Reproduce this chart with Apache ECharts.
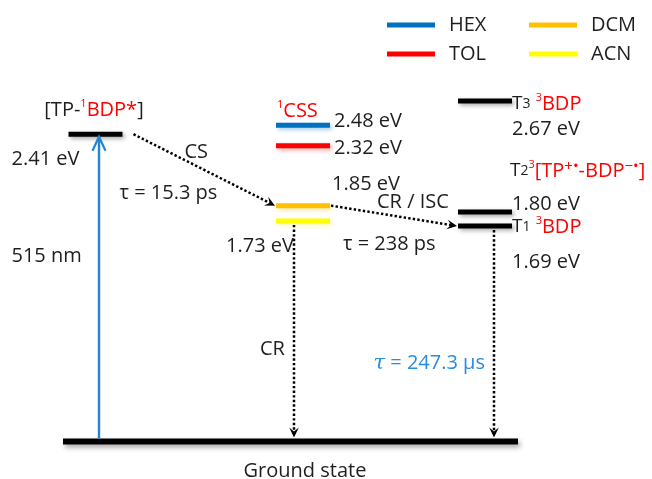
<!DOCTYPE html>
<html>
<head>
<meta charset="utf-8">
<script src="https://cdn.jsdelivr.net/npm/echarts@6/dist/echarts.min.js"></script>
<style>
  html, body { margin: 0; padding: 0; background: #ffffff; }
  #chart { width: 652px; height: 479px; }
</style>
</head>
<body>
<div id="chart"></div>
<script>
// ---- Energy levels (eV above the ground state) ----
const singletEnergy = 2.41;                       // [TP-1BDP*]
const solvents = ['HEX', 'TOL', 'DCM', 'ACN'];
const cssEnergies = [2.48, 2.32, 1.85, 1.73];     // 1CSS in each solvent
const tripletNames = ['T1', 'T2', 'T3'];
const tripletEnergies = [1.69, 1.80, 2.67];
const lifetimes = ['15.3 ps', '238 ps', '247.3 μs']; // CS, CR/ISC, T1 decay
const excitation = '515 nm';

// ---- Styles / layout ----
const FONT = "'Open Sans', 'Noto Sans', 'DejaVu Sans', sans-serif";
const INK = '#1e1e1e';
const RED = '#ff0000';
const BLUE = '#2284d6';
const TAU_BLUE = '#2a8cdc';
const SOLVENT_COLORS = ['#0070c0', '#ff0000', '#ffc000', '#ffff00'];
const COL = { S1: 95.5, CSS: 303, T: 485 };  // column centres along x
const HALF = 27;                              // half length of a level bar
const GROUND = [63, 518];                     // ground-state bar extent

const eV = v => v.toFixed(2) + ' eV';
const sub = i => tripletNames[i].slice(1);

const rich = {
  k:  { fill: INK, fontSize: 20, fontFamily: FONT, lineHeight: 24 },
  r:  { fill: RED, fontSize: 20, fontFamily: FONT, lineHeight: 24 },
  rs: { fill: RED, fontSize: 11, fontFamily: FONT, lineHeight: 12, verticalAlign: 'top' },
  rc: { fill: RED, fontSize: 15, fontFamily: FONT, lineHeight: 14, verticalAlign: 'top' },
  kb: { fill: INK, fontSize: 14, fontFamily: FONT, lineHeight: 14, verticalAlign: 'middle' },
  kt: { fill: INK, fontSize: 19, fontFamily: FONT, lineHeight: 24 },
  b:  { fill: TAU_BLUE, fontSize: 20, fontFamily: FONT, lineHeight: 24 },
  bt: { fill: TAU_BLUE, fontSize: 21, fontFamily: "'DejaVu Serif', serif", fontStyle: 'italic', lineHeight: 24 }
};

const annotations = [
  { at: [COL.S1, singletEnergy], dx: -1.5, dy: -24, align: 'center', text: '{k|[TP-}{rs|1}{r|BDP*}{k|]}' },
  { at: [COL.S1 - HALF, singletEnergy], dx: -57, dy: 25, text: `{k|${eV(singletEnergy)}}` },
  { at: [COL.S1 - HALF, singletEnergy], dx: -57, dy: 122, text: `{k|${excitation}}` },
  { at: [COL.S1 + HALF + 11, singletEnergy], dx: 51, dy: 18, text: '{k|CS}' },
  { at: [COL.S1 + HALF + 11, singletEnergy], dx: -14, dy: 59, text: `{k|τ = ${lifetimes[0]}}` },
  { at: [COL.CSS - HALF, cssEnergies[0]], dx: 1, dy: -14, text: '{rs|1}{r|CSS}' },
  { at: [COL.CSS + HALF, cssEnergies[0]], dx: 4, dy: -4, text: `{k|${eV(cssEnergies[0])}}` },
  { at: [COL.CSS + HALF, cssEnergies[1]], dx: 4, dy: 3, text: `{k|${eV(cssEnergies[1])}}` },
  { at: [COL.CSS + HALF, cssEnergies[2]], dx: 2, dy: -21, text: `{k|${eV(cssEnergies[2])}}` },
  { at: [COL.CSS + HALF, cssEnergies[2]], dx: 47, dy: -3, text: '{k|CR / ISC}' },
  { at: [COL.CSS - HALF, cssEnergies[3]], dx: -50, dy: 25, text: `{k|${eV(cssEnergies[3])}}` },
  { at: [COL.CSS + HALF, cssEnergies[3]], dx: 13, dy: 23, text: `{k|τ = ${lifetimes[1]}}` },
  { at: [COL.T + HALF, tripletEnergies[2]], dx: 0, dy: 3, text: `{kt|T}{kb|${sub(2)}}{k| }{rs|3}{r|BDP}` },
  { at: [COL.T + HALF, tripletEnergies[2]], dx: 0, dy: 28, text: `{k|${eV(tripletEnergies[2])}}` },
  { at: [COL.T + HALF, tripletEnergies[1]], dx: -2, dy: -41, text: `{kt|T}{kb|${sub(1)}}{rs|3}{r|[TP}{rc|+•}{r|-BDP}{rc|−•}{r|]}` },
  { at: [COL.T + HALF, tripletEnergies[1]], dx: 0, dy: -8, text: `{k|${eV(tripletEnergies[1])}}` },
  { at: [COL.T + HALF, tripletEnergies[0]], dx: 0, dy: 1, text: `{kt|T}{kb|${sub(0)}}{k| }{rs|3}{r|BDP}` },
  { at: [COL.T + HALF, tripletEnergies[0]], dx: 0, dy: 36, text: `{k|${eV(tripletEnergies[0])}}` },
  { at: [COL.CSS - 9, 0], dx: -34, dy: -92, text: '{k|CR}' },
  { at: [COL.T + 9, 0], dx: -9, dy: -78, align: 'right', text: `{bt|τ}{b| = ${lifetimes[2]}}` },
  { at: [COL.CSS, 0], dx: 2, dy: 30, align: 'center', text: '{k|Ground state}' }
];

// Transitions between levels (start, end in axis units)
const transitions = [
  { from: [COL.S1 + 3.5, 0], to: [COL.S1 + 3.5, singletEnergy], kind: 'solid', startGap: 3, endGap: 2.5 },
  { from: [COL.S1 + HALF + 11, singletEnergy], to: [COL.CSS - HALF - 1, cssEnergies[2]], kind: 'dot', startGap: 0, endGap: 0 },
  { from: [COL.CSS + HALF + 1, cssEnergies[2]], to: [COL.T - HALF - 1, tripletEnergies[0]], kind: 'dot', startGap: 0, endGap: 0 },
  { from: [COL.CSS - 9, cssEnergies[3]], to: [COL.CSS - 9, 0], kind: 'dot', startGap: 4, endGap: 4 },
  { from: [COL.T + 9, tripletEnergies[0]], to: [COL.T + 9, 0], kind: 'dot', startGap: 4, endGap: 4 }
];

function renderLevel(params, api) {
  const c = api.coord([api.value(0), api.value(1)]);
  const color = api.visual('color');
  const black = color === '#000000';
  return {
    type: 'line',
    shape: { x1: c[0] - HALF, y1: c[1], x2: c[0] + HALF, y2: c[1] },
    style: {
      stroke: color, lineWidth: 5, lineCap: 'butt',
      shadowBlur: 4, shadowOffsetX: 2, shadowOffsetY: 2,
      shadowColor: black ? 'rgba(0,0,0,0.35)' : echarts.color.modifyAlpha(color, 0.35)
    }
  };
}

function renderGround(params, api) {
  const a = api.coord([GROUND[0], 0]);
  const b = api.coord([GROUND[1], 0]);
  return {
    type: 'line',
    shape: { x1: a[0], y1: a[1], x2: b[0], y2: b[1] },
    style: {
      stroke: '#000000', lineWidth: 6, lineCap: 'butt',
      shadowBlur: 5, shadowOffsetX: 2, shadowOffsetY: 3, shadowColor: 'rgba(0,0,0,0.35)'
    }
  };
}

function renderTransition(params, api) {
  const t = transitions[params.dataIndex];
  const p1 = api.coord(t.from), p2 = api.coord(t.to);
  const dx = p2[0] - p1[0], dy = p2[1] - p1[1];
  const len = Math.hypot(dx, dy);
  const ux = dx / len, uy = dy / len, nx = -uy, ny = ux;
  const s = [p1[0] + ux * t.startGap, p1[1] + uy * t.startGap];
  const e = [p2[0] - ux * t.endGap, p2[1] - uy * t.endGap];
  const children = [];
  if (t.kind === 'solid') {
    const L = 14, W = 6.5;
    const back = [e[0] - ux * L, e[1] - uy * L];
    children.push({
      type: 'line', shape: { x1: s[0], y1: s[1], x2: e[0], y2: e[1] },
      style: { stroke: BLUE, lineWidth: 2.4 }
    });
    children.push({
      type: 'polyline',
      shape: { points: [[back[0] + nx * W, back[1] + ny * W], e, [back[0] - nx * W, back[1] - ny * W]] },
      style: { stroke: BLUE, lineWidth: 2.2, fill: null, lineJoin: 'miter' }
    });
  } else {
    const L = 10, W = 4.8;
    const back = [e[0] - ux * L, e[1] - uy * L];
    const notch = [e[0] - ux * L * 0.6, e[1] - uy * L * 0.6];
    children.push({
      type: 'line', shape: { x1: s[0], y1: s[1], x2: notch[0], y2: notch[1] },
      style: { stroke: '#000000', lineWidth: 2.5, lineDash: [2.4, 2.2], lineCap: 'butt' }
    });
    children.push({
      type: 'polygon',
      shape: { points: [e, [back[0] + nx * W, back[1] + ny * W], notch, [back[0] - nx * W, back[1] - ny * W]] },
      style: { fill: '#000000' }
    });
  }
  return { type: 'group', children };
}

function renderAnnotation(params, api) {
  const a = annotations[params.dataIndex];
  const c = api.coord(a.at);
  return {
    type: 'text',
    x: c[0] + a.dx, y: c[1] + a.dy,
    style: {
      text: a.text, rich: rich, align: a.align || 'left', verticalAlign: 'middle',
      fontFamily: FONT, fontSize: 20, fill: INK
    }
  };
}

const chart = echarts.init(document.getElementById('chart'), null, { renderer: 'canvas' });

const solventSeries = solvents.map((name, i) => ({
  name: name,
  type: 'custom',
  renderItem: renderLevel,
  itemStyle: { color: SOLVENT_COLORS[i] },
  data: [[COL.CSS, cssEnergies[i]]],
  z: 3
}));

const legendBase = {
  orient: 'vertical',
  top: 15,
  padding: 0,
  itemWidth: 48,
  itemHeight: 5,
  itemGap: 9,
  icon: 'rect',
  selectedMode: false,
  textStyle: { fontSize: 20, fontFamily: FONT, color: INK, padding: [6, 0, 0, 9] }
};

chart.setOption({
  animation: false,
  backgroundColor: '#ffffff',
  grid: { left: 0, right: 0, top: 59, bottom: 37.5 },
  xAxis: { type: 'value', min: 0, max: 652, show: false },
  yAxis: { type: 'value', min: 0, max: 3, show: false },
  legend: [
    Object.assign({}, legendBase, { left: 387, data: solvents.slice(0, 2) }),
    Object.assign({}, legendBase, { left: 529, data: solvents.slice(2, 4) })
  ],
  series: [
    { type: 'custom', name: 'ground', renderItem: renderGround, data: [[0, 0]], z: 2 },
    {
      type: 'custom', name: 'levels', renderItem: renderLevel,
      itemStyle: { color: '#000000' },
      data: [[COL.S1, singletEnergy]].concat(tripletEnergies.map(e => [COL.T, e])),
      z: 3
    },
    ...solventSeries,
    {
      type: 'custom', name: 'transitions', renderItem: renderTransition,
      data: transitions.map(t => [t.from[0], t.from[1], t.to[0], t.to[1]]),
      encode: { x: [0, 2], y: [1, 3] },
      z: 4
    },
    {
      type: 'custom', name: 'annotations', renderItem: renderAnnotation,
      data: annotations.map(a => a.at),
      z: 5
    }
  ]
});
</script>
</body>
</html>
